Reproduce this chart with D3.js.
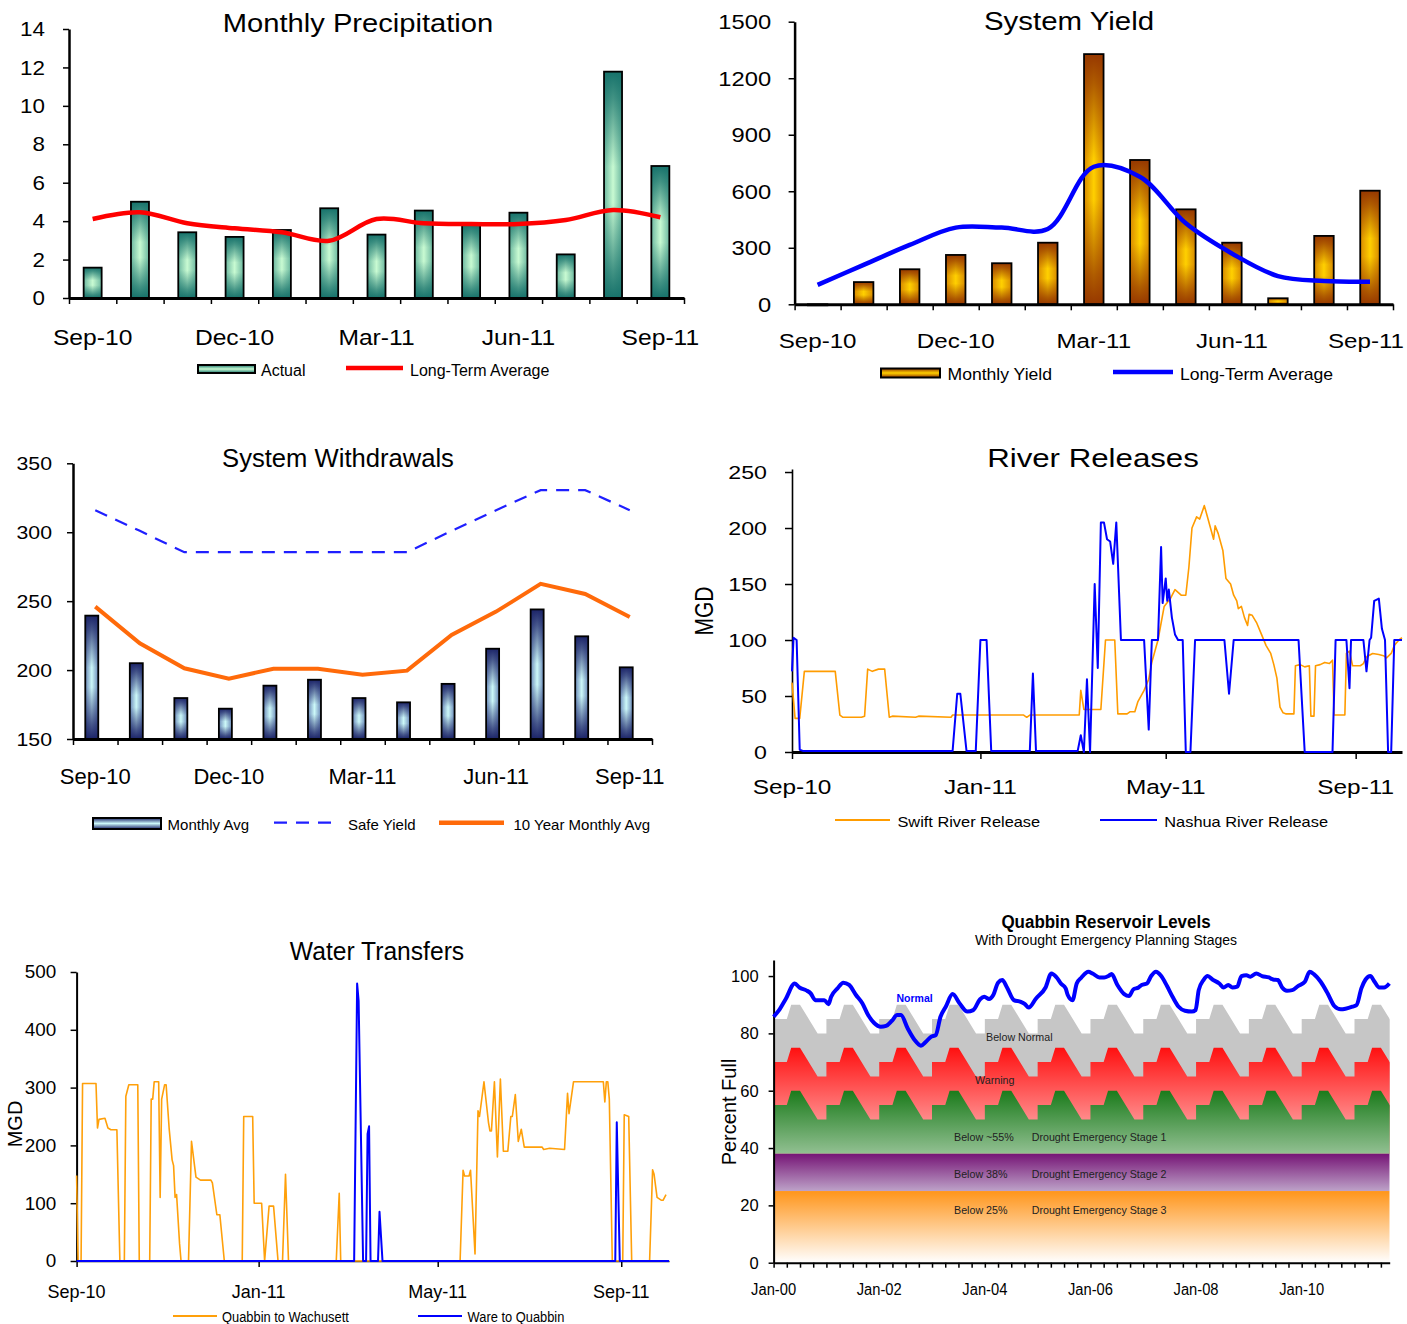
<!DOCTYPE html>
<html>
<head>
<meta charset="utf-8">
<script src="https://cdn.jsdelivr.net/npm/d3@7"></script>
<style>
  body { margin: 0; background: #fff; }
</style>
</head>
<body>
<div id="chart"></div>
<script>
// ---------- data ----------
const months = ["Sep-10","Oct-10","Nov-10","Dec-10","Jan-11","Feb-11","Mar-11",
                "Apr-11","May-11","Jun-11","Jul-11","Aug-11","Sep-11"];
const monthTicks = ["Sep-10","Dec-10","Mar-11","Jun-11","Sep-11"];

const precipActual  = [1.58, 5.01, 3.42, 3.18, 3.54, 4.67, 3.30, 4.55, 3.85, 4.44, 2.27, 11.78, 6.87];
const precipAverage = [4.11, 4.46, 3.89, 3.63, 3.42, 2.98, 4.11, 3.89, 3.85, 3.85, 4.06, 4.58, 4.20];

const yieldMonthly = [-5, 118, 186, 262, 218, 327, 1328, 766, 504, 327, 32, 363, 603];
const yieldAverage = [103, 209, 315, 407, 407, 400, 730, 677, 430, 270, 150, 124, 120];

const withdrawMonthly = [239.5, 205, 179.7, 172, 188.7, 193, 179.7, 176.6, 190, 215.5, 244, 224.5, 202];
const withdrawSafe    = [316, 301, 285.5, 285.5, 285.5, 285.5, 285.5, 285.5, 301, 316, 330.5, 330.5, 316];
const withdraw10yr    = [246, 219.4, 201.3, 193.8, 201, 201, 196.7, 199.6, 225.5, 242.4, 262.5, 255.2, 238.5];

// daily series: [days since 1 Sep 2010, MGD]
const releaseTicks = ["Sep-10","Jan-11","May-11","Sep-11"];
const swiftRelease = [[0,62],[2,30],[5,30],[8,72],[28,72],[31,33],[33,31],[45,31],[47,32],[49,74],[52,72],
  [56,74],[60,74],[63,31],[65,32],[80,31],[82,32],[103,31],[104,33],[150,33],[152,31],[154,33],[186,33],
  [187,55],[189,38],[200,38],[203,100],[209,100],[211,34],[217,34],[219,36],[222,36],[224,45],[228,55],
  [231,65],[233,80],[237,100],[241,130],[245,137],[248,145],[252,140],[255,140],[257,165],[259,200],
  [262,210],[264,208],[267,220],[269,210],[271,200],[273,190],[274,202],[276,195],[279,180],[281,155],
  [284,150],[286,140],[288,135],[289,128],[291,130],[293,120],[295,113],[296,123],[298,122],[301,115],
  [304,105],[307,95],[310,88],[312,78],[314,66],[316,40],[318,35],[320,34],[325,34],[326,77],[329,78],
  [332,76],[335,77],[336,32],[338,32],[339,77],[342,78],[345,80],[348,79],[350,82],[351,33],[358,33],
  [359,88],[361,90],[363,77],[368,77],[370,79],[372,85],[376,88],[380,87],[383,86],[385,84],[388,88],
  [390,95],[393,100],[395,102]];
const nashuaRelease = [[0,72],[1,102],[3,100],[5,2],[7,1],[104,1],[107,52],[109,52],[113,1],[119,1],
  [122,100],[126,100],[129,1],[154,1],[156,70],[158,1],[185,1],[187,15],[189,0],[191,65],[193,0],
  [196,150],[198,75],[200,205],[202,205],[204,190],[206,188],[208,168],[210,205],[213,100],[228,100],
  [231,20],[233,100],[237,100],[239,183],[240,133],[242,155],[243,135],[244,145],[246,120],[248,105],
  [250,100],[253,100],[255,0],[258,0],[261,100],[280,100],[283,52],[286,100],[328,100],[332,0],
  [350,0],[352,100],[359,100],[361,57],[362,100],[370,100],[372,72],[374,100],[375,102],[377,135],
  [380,137],[382,110],[384,100],[386,0],[388,0],[390,100],[395,100]];

const quabbinToWachusett = [[0,148],[1,0],[3,0],[4,307],[13,307],[14,230],[15,245],[19,247],[21,230],
  [23,227],[27,227],[29,0],[32,0],[33,285],[35,305],[41,305],[42,0],[49,0],[50,280],[51,280],[52,310],
  [55,310],[56,110],[57,280],[59,305],[60,305],[62,230],[64,175],[65,165],[66,110],[67,115],[69,30],
  [70,0],[75,0],[77,207],[80,145],[83,140],[90,140],[91,135],[94,80],[96,80],[99,0],[111,0],[112,250],
  [118,250],[119,100],[124,100],[126,0],[129,95],[132,95],[135,0],[138,0],[140,150],[142,0],[174,0],
  [176,117],[177,0],[257,0],[259,157],[260,147],[263,147],[264,157],[267,12],[269,260],[270,250],
  [273,310],[276,240],[277,225],[278,225],[280,310],[282,180],[284,315],[286,190],[289,190],[291,250],
  [292,250],[294,288],[296,207],[298,228],[300,197],[312,197],[313,193],[317,195],[327,193],[329,290],
  [330,255],[333,310],[353,310],[354,275],[355,310],[356,310],[357,280],[359,0],[366,0],[367,253],
  [370,250],[372,0],[384,0],[386,158],[387,150],[389,110],[392,105],[393,105],[395,115]];
const wareToQuabbin = [[0,0],[186,0],[188,480],[189,450],[192,0],[194,0],[195,220],[196,233],[197,0],
  [202,0],[203,85],[205,0],[361,0],[362,240],[364,0],[397,0]];

// reservoir level: [decimal year, percent full]
const levelTicks = ["Jan-00","Jan-02","Jan-04","Jan-06","Jan-08","Jan-10"];
const quabbinLevel = [[2000.00,85.8],[2000.10,88],[2000.23,92],[2000.40,97.4],[2000.49,96],[2000.62,95],
  [2000.70,94],[2000.79,91.6],[2000.96,91.6],[2001.04,90.2],[2001.09,92.8],[2001.21,95.7],[2001.32,97.7],
  [2001.43,96.9],[2001.56,93.4],[2001.68,90.5],[2001.79,86.4],[2001.90,83.7],[2002.03,82.3],[2002.13,82.6],
  [2002.24,84.4],[2002.34,86.4],[2002.41,86.4],[2002.54,81.7],[2002.67,77.7],[2002.79,75.7],[2002.88,77],
  [2002.98,78.8],[2003.07,79.4],[2003.16,85.8],[2003.26,89.3],[2003.39,93.7],[2003.52,90.5],[2003.67,87.6],
  [2003.78,88.1],[2003.91,91.9],[2003.99,92.8],[2004.08,92],[2004.16,93.4],[2004.25,97.7],[2004.33,98.6],
  [2004.42,96],[2004.55,91.6],[2004.68,91],[2004.76,90.2],[2004.83,89],[2004.97,92.2],[2005.15,96],
  [2005.26,100.9],[2005.36,99.5],[2005.44,97.4],[2005.53,95.7],[2005.57,93.4],[2005.66,91.6],[2005.74,97.4],
  [2005.83,99.5],[2005.96,101.5],[2006.04,100.9],[2006.17,99.5],[2006.26,99.5],[2006.34,100],[2006.40,100.7],
  [2006.51,96.9],[2006.64,93.7],[2006.73,93],[2006.81,95.3],[2006.91,96],[2006.97,96.9],[2007.07,97.4],
  [2007.15,100],[2007.24,101.5],[2007.34,100],[2007.45,96.5],[2007.56,92.6],[2007.67,89.3],[2007.79,87.9],
  [2007.92,87.6],[2007.99,88.1],[2008.05,95.1],[2008.14,98.6],[2008.22,100],[2008.31,98.8],[2008.44,97.4],
  [2008.52,96],[2008.61,96.9],[2008.69,96],[2008.78,96.3],[2008.86,100],[2008.95,100.3],[2009.03,99.8],
  [2009.14,100.9],[2009.25,100],[2009.38,99.5],[2009.46,98.8],[2009.55,98.6],[2009.63,96],[2009.72,94.9],
  [2009.82,95.1],[2009.93,96.5],[2010.06,98],[2010.15,101.5],[2010.23,100.7],[2010.36,98],[2010.49,94],
  [2010.62,89.5],[2010.74,88.4],[2010.83,88.6],[2010.96,89.3],[2011.04,89.9],[2011.13,95.7],[2011.21,98.8],
  [2011.30,100],[2011.38,98],[2011.47,96],[2011.56,96],[2011.66,97.4]];

// drought plan thresholds within one year: [month offset, percent]
const normalPattern  = [[0,85],[3,85],[4,90],[6,90],[10,80],[12,80]];
const warningPattern = [[0,70],[3,70],[4,75],[6,75],[10,65],[12,65]];
const stage1Pattern  = [[0,55],[3,55],[4,60],[6,60],[10,50],[12,50]];
const stage2Level = 38;
const stage3Level = 25;

// ---------- setup ----------
const FONT = "'Liberation Sans', Arial, sans-serif";
const svg = d3.select("#chart").append("svg").attr("width", 1407).attr("height", 1324);
const defs = svg.append("defs");

function txt(g, x, y, s, o) {
  o = o || {};
  let tr = `translate(${x},${y})`;
  if (o.sx && o.sx !== 1) tr += ` scale(${o.sx},1)`;
  if (o.rot) tr += ` rotate(${o.rot})`;
  const t = g.append("text")
    .attr("transform", tr)
    .attr("text-anchor", o.anchor || "start")
    .attr("font-family", FONT)
    .attr("font-size", o.size || 16)
    .attr("fill", o.fill || "#000")
    .text(s);
  if (o.bold) t.attr("font-weight", "bold");
  if (o.len) t.attr("textLength", o.len).attr("lengthAdjust", "spacingAndGlyphs");
  // keep labels inside the page
  const r = t.node().getBoundingClientRect();
  if (r.right > 1404) t.attr("transform", `translate(${1404 - r.right},0) ` + tr);
  return t;
}

function linGrad(id, vertical, stops) {
  const gr = defs.append("linearGradient").attr("id", id)
    .attr("x1", 0).attr("y1", 0).attr("x2", vertical ? 0 : 1).attr("y2", vertical ? 1 : 0);
  stops.forEach(s => gr.append("stop").attr("offset", s[0]).attr("stop-color", s[1])
    .attr("stop-opacity", s[2] == null ? 1 : s[2]));
}

function styleAxis(ax, w) {
  ax.select(".domain").attr("stroke", "#000").attr("stroke-width", w);
  ax.selectAll(".tick line").attr("stroke", "#000").attr("stroke-width", 1.5);
}

// ---------- bar + line panels ----------
function barPanel(p) {
  const g = svg.append("g");
  const x = d3.scaleBand().domain(months).range([p.x0, p.x1]);
  const y = d3.scaleLinear().domain(p.yDomain).range([p.yBottom, p.yTop]);
  const base = y(Math.max(p.yDomain[0], 0));

  // bars: light centre column, dark top and bottom
  linGrad(p.id + "-h", false, [[0, p.side], [0.5, p.mid], [1, p.side]]);
  linGrad(p.id + "-v", true, [[0, p.edge, 1], [0.12, p.edge, 0.75], [0.42, p.edge, 0],
                              [0.58, p.edge, 0], [0.88, p.edge, 0.75], [1, p.edge, 1]]);
  linGrad(p.id + "-l", true, [[0, p.edge], [0.5, p.mid], [1, p.edge]]);

  const bars = g.append("g").selectAll("g").data(p.bars).join("g");
  const bx = (d, i) => x(months[i]) + x.bandwidth() / 2 - p.barWidth / 2 + (p.barShift || 0);
  const by = d => Math.min(y(d), base);
  const bh = d => Math.max(Math.abs(y(d) - base), 1);
  bars.append("rect").attr("x", bx).attr("y", by).attr("width", p.barWidth).attr("height", bh)
    .attr("fill", `url(#${p.id}-h)`);
  bars.append("rect").attr("x", bx).attr("y", by).attr("width", p.barWidth).attr("height", bh)
    .attr("fill", `url(#${p.id}-v)`).attr("stroke", "#000").attr("stroke-width", 1.8);

  // axes
  const ay = g.append("g").attr("transform", `translate(${p.x0},0)`)
    .call(d3.axisLeft(y).tickValues(p.yTicks).tickSize(6).tickSizeOuter(0).tickFormat(""));
  styleAxis(ay, 2.5);
  p.yTicks.forEach(v => txt(g, p.x0 - p.yGap, y(v) + p.ySize * 0.36, d3.format("d")(v),
    { anchor: "end", size: p.ySize, sx: p.ySx }));

  const xb = d3.scaleLinear().domain([0, months.length]).range([p.x0, p.x1]);
  const axb = g.append("g").attr("transform", `translate(0,${p.yBottom})`)
    .call(d3.axisBottom(xb).tickValues(d3.range(months.length + 1)).tickSize(6).tickSizeOuter(0).tickFormat(""));
  styleAxis(axb, 3);
  monthTicks.forEach(m => txt(g, x(m) + x.bandwidth() / 2, p.xBase, m,
    { anchor: "middle", size: p.xSize, sx: p.xSx }));

  // lines
  p.lines.forEach(l => {
    g.append("path").datum(l.values)
      .attr("fill", "none").attr("stroke", l.color).attr("stroke-width", l.width)
      .attr("stroke-dasharray", l.dash || null)
      .attr("d", d3.line().curve(l.curve || d3.curveLinear)
        .x((d, i) => x(months[i]) + x.bandwidth() / 2).y(d => y(d)));
  });

  txt(g, p.title[1], p.title[2], p.title[0], { anchor: "middle", size: p.title[3], sx: p.title[4] });

  // legend
  p.legend.forEach(it => {
    if (it.type === "bar") {
      g.append("rect").attr("x", it.x).attr("y", it.y - it.h / 2).attr("width", it.w).attr("height", it.h)
        .attr("fill", `url(#${p.id}-l)`).attr("stroke", "#000").attr("stroke-width", 2);
    } else {
      g.append("line").attr("x1", it.x).attr("x2", it.x + it.w).attr("y1", it.y).attr("y2", it.y)
        .attr("stroke", it.color).attr("stroke-width", it.sw).attr("stroke-dasharray", it.dash || null);
    }
    txt(g, it.tx, p.legendBase, it.label, { size: p.legendSize, sx: p.legendSx });
  });
}

barPanel({
  id: "pr", x0: 69, x1: 684, yTop: 29, yBottom: 298, yDomain: [0, 14], yTicks: d3.range(0, 15, 2),
  bars: precipActual, barWidth: 18, edge: "#17726b", side: "#6cb8a0", mid: "#c8fad2",
  ySize: 20, ySx: 1.12, yGap: 24, xSize: 22, xSx: 1.12, xBase: 345,
  lines: [{ values: precipAverage, color: "#ff0000", width: 4.5, curve: d3.curveCatmullRom }],
  title: ["Monthly Precipitation", 358, 32, 26.5, 1.1],
  legendBase: 376, legendSize: 16, legendSx: 1.0,
  legend: [
    { type: "bar", x: 198, y: 369, w: 57, h: 8, label: "Actual", tx: 261 },
    { type: "line", x: 346, y: 368, w: 57, color: "#ff0000", sw: 4.5, label: "Long-Term  Average", tx: 410 }
  ]
});

barPanel({
  id: "sy", x0: 794.6, x1: 1393, yTop: 21.7, yBottom: 304.3, yDomain: [0, 1500], yTicks: d3.range(0, 1501, 300),
  bars: yieldMonthly, barWidth: 19.5, edge: "#963800", side: "#d88a00", mid: "#ffd000",
  ySize: 21, ySx: 1.13, yGap: 23.5, xSize: 21, xSx: 1.15, xBase: 348,
  lines: [{ values: yieldAverage, color: "#0000ff", width: 4.5, curve: d3.curveCatmullRom }],
  title: ["System Yield", 1069, 30, 25.6, 1.15],
  legendBase: 380, legendSize: 16, legendSx: 1.1,
  legend: [
    { type: "bar", x: 881, y: 373, w: 59, h: 9, label: "Monthly Yield", tx: 947.5 },
    { type: "line", x: 1113, y: 372, w: 60, color: "#0000ff", sw: 4.5, label: "Long-Term Average", tx: 1180 }
  ]
});

barPanel({
  id: "sw", x0: 73, x1: 652, yTop: 463.3, yBottom: 739, yDomain: [150, 350], yTicks: d3.range(150, 351, 50),
  bars: withdrawMonthly, barWidth: 13, barShift: -3.5, edge: "#1c2468", side: "#6a88b8", mid: "#ccf8f8",
  ySize: 19, ySx: 1.12, yGap: 21, xSize: 22, xSx: 1.0, xBase: 784,
  lines: [
    { values: withdrawSafe, color: "#1f1fff", width: 2.2, dash: "13,9" },
    { values: withdraw10yr, color: "#ff6a0a", width: 4 }
  ],
  title: ["System Withdrawals", 338, 467, 25.6, 1.0],
  legendBase: 830, legendSize: 15, legendSx: 1.0,
  legend: [
    { type: "bar", x: 93, y: 823.5, w: 68, h: 11, label: "Monthly Avg", tx: 167.6 },
    { type: "line", x: 274, y: 822.7, w: 58, color: "#1f1fff", sw: 2.2, dash: "13,9", label: "Safe Yield", tx: 348 },
    { type: "line", x: 439, y: 822.7, w: 65, color: "#ff6a0a", sw: 4.5, label: "10 Year  Monthly  Avg", tx: 513.5 }
  ]
});

// ---------- daily line panels ----------
const day0 = new Date(2010, 8, 1);
const parseTick = d3.timeParse("%b-%y");

function linePanel(p) {
  const g = svg.append("g");
  const x = d3.scaleTime().domain([day0, d3.timeDay.offset(day0, p.days)]).range([p.x0, p.x1]);
  const y = d3.scaleLinear().domain([0, p.yMax]).range([p.yBottom, p.yTop]);

  const ay = g.append("g").attr("transform", `translate(${p.x0},0)`)
    .call(d3.axisLeft(y).tickValues(p.yTicks).tickSize(p.tick).tickSizeOuter(0).tickFormat(""));
  styleAxis(ay, p.yAxisW);
  p.yTicks.forEach(v => txt(g, p.x0 - p.yGap, y(v) + p.ySize * 0.36, String(v),
    { anchor: "end", size: p.ySize, sx: p.ySx }));

  const tickDates = releaseTicks.map(parseTick);
  const axb = g.append("g").attr("transform", `translate(0,${p.yBottom})`)
    .call(d3.axisBottom(x).tickValues(tickDates).tickSize(p.tick).tickSizeOuter(0).tickFormat(""));
  styleAxis(axb, p.xAxisW);
  releaseTicks.forEach((t, i) => txt(g, x(tickDates[i]), p.xBase, t,
    { anchor: "middle", size: p.xSize, sx: p.xSx }));

  const line = d3.line().x(d => x(d3.timeDay.offset(day0, d[0]))).y(d => y(d[1]));
  p.series.forEach(s => {
    g.append("path").datum(s.values).attr("fill", "none").attr("stroke", s.color)
      .attr("stroke-width", s.width).attr("stroke-linejoin", "round").attr("d", line);
  });

  txt(g, p.title[1], p.title[2], p.title[0], { anchor: "middle", size: p.title[3], sx: p.title[4] });
  txt(g, p.yLabel[0], p.yLabel[1], "MGD", { anchor: "middle", size: p.yLabel[2], sx: p.yLabel[3], rot: -90 });

  p.legend.forEach(it => {
    g.append("line").attr("x1", it.x).attr("x2", it.x + it.w).attr("y1", it.y).attr("y2", it.y)
      .attr("stroke", it.color).attr("stroke-width", 2);
    txt(g, it.tx, p.legendBase, it.label, { size: p.legendSize, sx: p.legendSx });
  });
}

linePanel({
  x0: 792, x1: 1402, days: 395, yTop: 469, yBottom: 752, yMax: 252.7, yTicks: [0, 50, 100, 150, 200, 250],
  tick: 7, yAxisW: 1.6, xAxisW: 3, ySize: 19, ySx: 1.22, yGap: 25, xSize: 20.5, xSx: 1.19, xBase: 794,
  series: [
    { values: swiftRelease, color: "#ff9c00", width: 1.6 },
    { values: nashuaRelease, color: "#0000ff", width: 2 }
  ],
  title: ["River Releases", 1093, 467, 25.6, 1.22],
  yLabel: [713, 611, 21, 1.25],
  legendBase: 826.7, legendSize: 14, legendSx: 1.17,
  legend: [
    { x: 835, y: 820, w: 55, color: "#ff9c00", label: "Swift River  Release", tx: 897.4 },
    { x: 1100, y: 820, w: 57, color: "#0000ff", label: "Nashua  River Release", tx: 1164.3 }
  ]
});

linePanel({
  x0: 76.6, x1: 669, days: 397, yTop: 972, yBottom: 1261, yMax: 500, yTicks: [0, 100, 200, 300, 400, 500],
  tick: 6, yAxisW: 2, xAxisW: 1.5, ySize: 18, ySx: 1.05, yGap: 20.3, xSize: 17.5, xSx: 1.03, xBase: 1298,
  series: [
    { values: quabbinToWachusett, color: "#ffa00a", width: 1.6 },
    { values: wareToQuabbin, color: "#0000ff", width: 2 }
  ],
  title: ["Water Transfers", 377, 960, 26.5, 0.93],
  yLabel: [22, 1124, 20, 1.0],
  legendBase: 1321.7, legendSize: 14, legendSx: 0.92,
  legend: [
    { x: 173, y: 1316, w: 44, color: "#ffa00a", label: "Quabbin  to Wachusett", tx: 222 },
    { x: 418, y: 1316, w: 44, color: "#0000ff", label: "Ware to Quabbin", tx: 467.6 }
  ]
});

// ---------- reservoir levels ----------
(function () {
  const g = svg.append("g");
  const x0 = 773.6, x1 = 1389.7, yB = 1262.7, yT = 960;
  const x = d3.scaleLinear().domain([2000, 2011 + 8 / 12]).range([x0, x1]);
  const y = d3.scaleLinear().domain([0, 105.6]).range([yB, yT]);

  defs.append("clipPath").attr("id", "lvclip").append("rect")
    .attr("x", x0).attr("y", yT - 20).attr("width", x1 - x0).attr("height", yB - yT + 20);

  function vgrad(id, vTop, cTop, vBot, cBot) {
    const gr = defs.append("linearGradient").attr("id", id).attr("gradientUnits", "userSpaceOnUse")
      .attr("x1", 0).attr("x2", 0).attr("y1", y(vTop)).attr("y2", y(vBot));
    gr.append("stop").attr("offset", 0).attr("stop-color", cTop);
    gr.append("stop").attr("offset", 1).attr("stop-color", cBot);
  }
  vgrad("gRed", 75, "#ff1010", 50, "#ff8a8a");
  vgrad("gGreen", 60, "#1b7b1b", 38, "#92c092");
  vgrad("gPurple", 38, "#761576", 25, "#bda2c8");
  vgrad("gOrange", 25, "#ff951a", 0, "#ffffff");

  const years = d3.range(2000, 2012);
  const expand = pat => years.flatMap(yr => pat.map(pt => [yr + pt[0] / 12, pt[1]]));
  const band = d3.area().x(d => x(d[0])).y0(y(stage2Level)).y1(d => y(d[1]));

  const bands = g.append("g").attr("clip-path", "url(#lvclip)");
  bands.append("path").datum(expand(normalPattern)).attr("fill", "#c6c6c6").attr("d", band);
  bands.append("path").datum(expand(warningPattern)).attr("fill", "url(#gRed)").attr("d", band);
  bands.append("path").datum(expand(stage1Pattern)).attr("fill", "url(#gGreen)").attr("d", band);
  bands.append("rect").attr("x", x0).attr("width", x1 - x0)
    .attr("y", y(stage2Level)).attr("height", y(stage3Level) - y(stage2Level)).attr("fill", "url(#gPurple)");
  bands.append("rect").attr("x", x0).attr("width", x1 - x0)
    .attr("y", y(stage3Level)).attr("height", y(0) - y(stage3Level)).attr("fill", "url(#gOrange)");

  // axes
  const ay = g.append("g").attr("transform", `translate(${x0},0)`)
    .call(d3.axisLeft(y).tickValues(d3.range(0, 101, 20)).tickSize(5).tickSizeOuter(0).tickFormat(""));
  styleAxis(ay, 2);
  d3.range(0, 101, 20).forEach(v => txt(g, x0 - 15, y(v) + 6, String(v), { anchor: "end", size: 16.5 }));

  const axb = g.append("g").attr("transform", `translate(0,${yB})`)
    .call(d3.axisBottom(x).tickValues(d3.range(2000, 2011.7, 0.25)).tickSize(5).tickSizeOuter(0).tickFormat(""));
  styleAxis(axb, 2);
  levelTicks.forEach((t, i) => txt(g, x(2000 + 2 * i), 1295, t, { anchor: "middle", size: 16, sx: 0.92 }));

  // level line
  g.append("path").datum(quabbinLevel).attr("fill", "none").attr("stroke", "#0000ff")
    .attr("stroke-width", 4).attr("stroke-linejoin", "round")
    .attr("d", d3.line().curve(d3.curveMonotoneX).x(d => x(d[0])).y(d => y(d[1])));

  // labels
  txt(g, 1106, 928, "Quabbin Reservoir Levels", { anchor: "middle", size: 17.5, bold: true, sx: 0.97 });
  txt(g, 1106, 945, "With Drought Emergency Planning Stages", { anchor: "middle", size: 14.5, len: 262 });
  txt(g, 736, 1112, "Percent Full", { anchor: "middle", size: 20, rot: -90 });
  txt(g, 896.5, 1002, "Normal", { size: 10.5, bold: true, fill: "#0000ff" });
  txt(g, 986, 1041, "Below Normal", { size: 10.7, fill: "#222" });
  txt(g, 975, 1084, "Warning", { size: 10.7, fill: "#222" });
  const stages = [["Below ~55%", "Drought Emergency Stage 1", 1141],
                  ["Below 38%", "Drought Emergency Stage 2", 1178],
                  ["Below 25%", "Drought Emergency Stage 3", 1214]];
  stages.forEach(s => {
    txt(g, 954, s[2], s[0], { size: 10.7, fill: "#222" });
    txt(g, 1031.7, s[2], s[1], { size: 10.7, fill: "#222" });
  });
})();
</script>
</body>
</html>
